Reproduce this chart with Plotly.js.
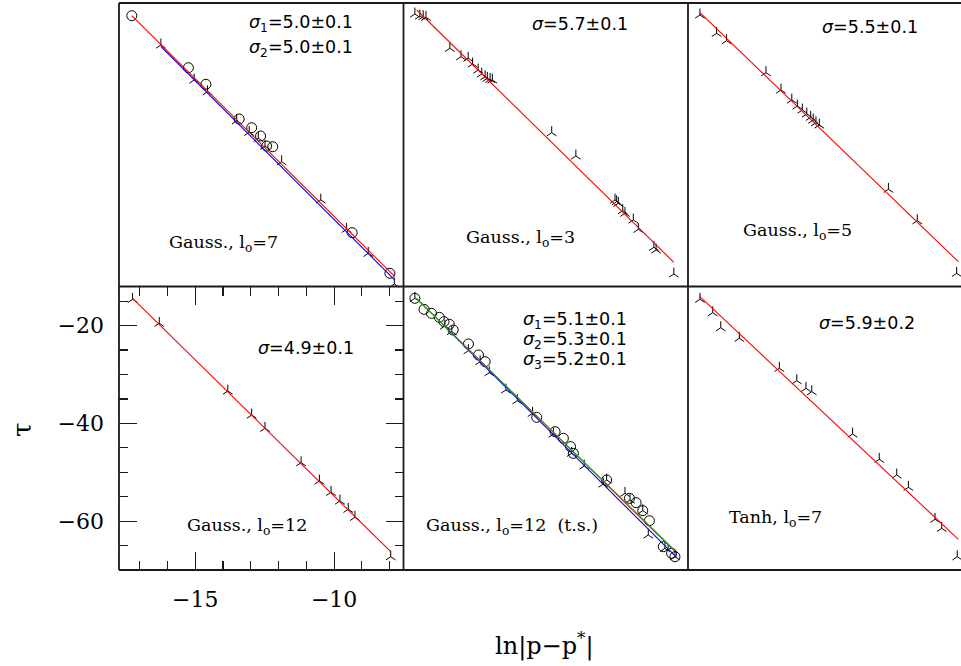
<!DOCTYPE html>
<html>
<head>
<meta charset="utf-8">
<script src="https://cdn.plot.ly/plotly-3.0.1.min.js"></script>
<style>
  html, body { margin: 0; padding: 0; background: #fff; }
  #plot { width: 961px; height: 666px; }
</style>
</head>
<body>
<div id="plot"></div>
<script>
// ---- Gaussian, l0 = 7 (two runs, two fits) ----
const g7CircX = [-17.29, -15.25, -14.62, -13.42, -12.97, -12.65, -12.43, -12.21, -9.35, -7.99];
const g7CircY = [-14.6, -25.24, -28.63, -35.73, -37.51, -39.21, -41.26, -41.4, -58.99, -67.3];
const g7TriX = [-16.24, -15.04, -14.56, -13.51, -13.06, -12.73, -12.49, -11.89, -10.48, -9.55, -8.77, -7.83];
const g7TriY = [-20.59, -27.75, -30.15, -36.08, -38.45, -39.68, -41.26, -44.47, -52.3, -58.3, -63.21, -69.49];
const g7FitRedX = [-17.29, -7.81];
const g7FitRedY = [-14.6, -67.99];
const g7FitBlueX = [-16.24, -7.81];
const g7FitBlueY = [-20.9, -68.7];

// ---- Gaussian, l0 = 3 ----
const g3TriX = [-17.34, -17.16, -17.04, -16.94, -16.08, -15.68, -15.42, -15.26, -15.06, -14.93, -14.81, -14.73, -14.63, -14.55,
                -12.41, -11.54, -10.13, -10.07, -10.01, -9.85, -9.77, -9.47, -9.29, -8.73, -8.65, -8.01];
const g3TriY = [-14.25, -14.66, -14.80, -14.93, -21.27, -22.99, -23.31, -24.48, -25.71, -26.53, -27.08, -27.41, -27.61, -27.75,
                -38.53, -43.3, -52.3, -52.65, -52.98, -54.49, -55.02, -56.39, -58.3, -61.98, -62.53, -67.44];
const g3FitX = [-17.27, -8.01];
const g3FitY = [-13.43, -65.05];

// ---- Gaussian, l0 = 5 ----
const g5TriX = [-17.32, -16.72, -16.36, -14.94, -14.4, -14.01, -13.81, -13.63, -13.47, -13.33, -13.24, -13.14, -13.02, -10.53, -9.49, -8.07];
const g5TriY = [-14.45, -18.2, -19.71, -26.26, -29.8, -31.84, -33.07, -33.89, -34.71, -35.38, -35.94, -36.49, -36.96, -50.11, -56.54, -67.3];
const g5FitX = [-17.32, -8.01];
const g5FitY = [-13.98, -64.93];

// ---- Gaussian, l0 = 12 ----
const g12TriX = [-17.26, -16.3, -13.83, -12.97, -12.49, -11.19, -10.53, -10.11, -9.79, -9.49, -9.25, -7.96];
const g12TriY = [-14.62, -19.53, -33.38, -38.29, -41.01, -48.05, -51.79, -54.1, -55.88, -57.58, -59.22, -67.28];
const g12FitX = [-17.26, -7.96];
const g12FitY = [-14.41, -66.26];

// ---- Gaussian, l0 = 12 (t.s.), three fits ----
const tsCircX = [-17.34, -17.01, -16.74, -16.46, -16.29, -16.1, -15.96, -15.41, -15.05, -14.81, -12.95, -12.29,
                 -11.99, -11.73, -11.63, -10.43, -9.61, -9.37, -9.13, -8.89, -8.39, -8.09, -7.97];
const tsCircY = [-14.42, -16.67, -17.49, -18.31, -19.19, -19.74, -20.9, -23.76, -26.01, -27.38, -38.77, -41.7,
                 -43.06, -44.77, -46.13, -51.59, -55.34, -56.22, -57.86, -59.91, -65.23, -66.59, -67.27];
const tsTriX = [-17.34, -16.26, -16.01, -15.41, -14.99, -14.66, -14.06, -13.65, -13.1, -12.35, -11.69, -11.24,
                -10.55, -10.43, -9.77, -9.59, -9.13, -8.93, -8.33, -7.97];
const tsTriY = [-14.42, -20.08, -21.24, -25.13, -27.38, -29.63, -33.17, -35.36, -37.95, -42.18, -46.13, -48.72,
                -52.41, -51.59, -54.31, -55.68, -57.86, -62.84, -65.57, -67.27];
const tsFitRedX = [-17.28, -8.01];
const tsFitRedY = [-14.42, -66.0];
const tsFitBlueX = [-16.26, -7.91];
const tsFitBlueY = [-20.22, -67.41];
const tsFitGreenX = [-17.34, -8.01];
const tsFitGreenY = [-14.22, -65.77];

// ---- Tanh, l0 = 7 ----
const thTriX = [-17.32, -16.86, -16.57, -15.9, -14.46, -13.83, -13.5, -13.29, -11.82, -10.86, -10.23, -9.81, -8.85, -8.61, -8.05];
const thTriY = [-14.62, -17.36, -20.43, -22.6, -28.73, -31.27, -32.83, -33.52, -42.18, -47.35, -50.56, -53.08, -59.63, -61.47, -67.28];
const thFitX = [-17.32, -8.01];
const thFitY = [-14.09, -63.72];

// Axis ticks and labels
const xTickVals = [-15, -10];
const yTickVals = [-20, -40, -60];
const xTitle = 'ln|p−p<sup>*</sup>|';
const yTitle = 'τ';

// Panel texts
const panelLabels = ['Gauss., l<sub>o</sub>=7', 'Gauss., l<sub>o</sub>=3', 'Gauss., l<sub>o</sub>=5',
                     'Gauss., l<sub>o</sub>=12', 'Gauss., l<sub>o</sub>=12  (t.s.)', 'Tanh, l<sub>o</sub>=7'];
const sigmaLabels = [
  ['<i>σ</i><sub>1</sub>=5.0±0.1', '<i>σ</i><sub>2</sub>=5.0±0.1'],
  ['<i>σ</i>=5.7±0.1'],
  ['<i>σ</i>=5.5±0.1'],
  ['<i>σ</i>=4.9±0.1'],
  ['<i>σ</i><sub>1</sub>=5.1±0.1', '<i>σ</i><sub>2</sub>=5.3±0.1', '<i>σ</i><sub>3</sub>=5.2±0.1'],
  ['<i>σ</i>=5.9±0.2']
];

// ---------------- drawing ----------------
const W = 961, H = 666;
const INK = '#1a1a1a';
const RED = '#ff0000', BLUE = '#0000ff', GREEN = '#1cb01c';

function pts(x, y, symbol, n) {
  return {
    type: 'scatter', mode: 'markers', x: x, y: y,
    xaxis: 'x' + n, yaxis: 'y' + n, cliponaxis: false,
    marker: { symbol: symbol, size: symbol === 'y-up' ? 8 : 10, color: '#000',
              line: { color: '#000', width: 1 } },
    hoverinfo: 'skip', showlegend: false
  };
}
function fit(x, y, color, n) {
  return {
    type: 'scatter', mode: 'lines', x: x, y: y,
    xaxis: 'x' + n, yaxis: 'y' + n,
    line: { color: color, width: 1.1 },
    hoverinfo: 'skip', showlegend: false
  };
}

const traces = [
  pts(g7CircX, g7CircY, 'circle-open', 1), pts(g7TriX, g7TriY, 'y-up', 1),
  fit(g7FitBlueX, g7FitBlueY, BLUE, 1), fit(g7FitRedX, g7FitRedY, RED, 1),

  pts(g3TriX, g3TriY, 'y-up', 2), fit(g3FitX, g3FitY, RED, 2),

  pts(g5TriX, g5TriY, 'y-up', 3), fit(g5FitX, g5FitY, RED, 3),

  pts(g12TriX, g12TriY, 'y-up', 4), fit(g12FitX, g12FitY, RED, 4),

  pts(tsCircX, tsCircY, 'circle-open', 5), pts(tsTriX, tsTriY, 'y-up', 5),
  fit(tsFitRedX, tsFitRedY, RED, 5), fit(tsFitBlueX, tsFitBlueY, BLUE, 5),
  fit(tsFitGreenX, tsFitGreenY, GREEN, 5),

  pts(thTriX, thTriY, 'y-up', 6), fit(thFitX, thFitY, RED, 6)
];

// panel frame in pixels
const colEdges = [119, 403.5, 688, 972.5];
const rowEdges = [3, 286.5, 570];
const pxPerX = (colEdges[1] - colEdges[0]) / 10.25;
const X0 = -17.75;
const yRange = [-70, -12];

const layout = {
  width: W, height: H,
  margin: { l: 0, r: 0, t: 0, b: 0, pad: 0 },
  paper_bgcolor: '#fff', plot_bgcolor: 'rgba(0,0,0,0)',
  showlegend: false,
  font: { family: 'DejaVu Serif', color: '#000' },
  annotations: [],
  shapes: []
};

for (let r = 0; r < 2; r++) {
  for (let c = 0; c < 3; c++) {
    const n = r * 3 + c + 1;
    const left = colEdges[c];
    const right = Math.min(colEdges[c + 1], W);
    const xr = [X0, X0 + (right - left) / pxPerX];
    const isTick = (n === 4);
    const xa = {
      domain: [left / W, right / W], range: xr, anchor: 'y' + n,
      showgrid: false, zeroline: false, showline: false,
      mirror: isTick ? 'ticks' : false,
      showticklabels: isTick, ticks: isTick ? 'inside' : ''
    };
    const ya = {
      domain: [1 - rowEdges[r + 1] / H, 1 - rowEdges[r] / H], range: yRange, anchor: 'x' + n,
      showgrid: false, zeroline: false, showline: false,
      mirror: isTick ? 'ticks' : false,
      showticklabels: isTick, ticks: isTick ? 'inside' : ''
    };
    if (isTick) {
      Object.assign(xa, {
        tickmode: 'array', tickvals: xTickVals, ticklen: 18, tickwidth: 1.2, tickcolor: INK,
        minor: { dtick: 1, tick0: -15, ticks: 'inside', ticklen: 9, tickwidth: 1.2, tickcolor: INK },
        tickfont: { family: 'DejaVu Serif', size: 22, color: '#000' }, ticklabelstandoff: 14
      });
      Object.assign(ya, {
        tickmode: 'array', tickvals: yTickVals, ticklen: 18, tickwidth: 1.2, tickcolor: INK,
        minor: { dtick: 5, tick0: -20, ticks: 'inside', ticklen: 9, tickwidth: 1.2, tickcolor: INK },
        tickfont: { family: 'DejaVu Serif', size: 22, color: '#000' }, ticklabelstandoff: 14
      });
    }
    layout['xaxis' + n] = xa;
    layout['yaxis' + n] = ya;
  }
}

// panel frame lines (the right column runs past the page edge, so no right frame)
function frameLine(x0, y0, x1, y1) {
  layout.shapes.push({
    type: 'line', xref: 'paper', yref: 'paper', layer: 'above',
    x0: x0 / W, y0: 1 - y0 / H, x1: x1 / W, y1: 1 - y1 / H,
    line: { color: INK, width: 1.8 }
  });
}
colEdges.slice(0, 3).forEach(x => frameLine(x, rowEdges[0], x, rowEdges[2]));
rowEdges.forEach(y => frameLine(colEdges[0], y, W, y));

function note(text, px, py, font) {
  layout.annotations.push({
    text: text, xref: 'paper', yref: 'paper', x: px / W, y: 1 - py / H,
    xanchor: 'center', yanchor: 'middle', showarrow: false, font: font
  });
}
const sigmaFont = { family: 'DejaVu Sans', size: 17.5, color: '#000' };
const labelFont = { family: 'DejaVu Serif', size: 17.5, color: '#000' };

// sigma values in each panel
const sigmaPos = [[301, 24, 25], [580, 24, 0], [870, 27, 0], [306, 348, 0], [575, 320, 20], [867, 323, 0]];
sigmaLabels.forEach((lines, i) => {
  lines.forEach((t, k) => note(t, sigmaPos[i][0], sigmaPos[i][1] + k * sigmaPos[i][2], sigmaFont));
});
// model labels in each panel
const labelPos = [[223, 244], [520, 239], [797, 231], [247, 526], [512, 526], [775, 518]];
panelLabels.forEach((t, i) => note(t, labelPos[i][0], labelPos[i][1], labelFont));

// shared axis titles
note(xTitle, 544, 644, { family: 'DejaVu Serif', size: 24, color: '#000' });
layout.annotations.push({
  text: yTitle, xref: 'paper', yref: 'paper', x: 22 / W, y: 1 - 430 / H,
  xanchor: 'center', yanchor: 'middle', textangle: -90, showarrow: false,
  font: { family: 'DejaVu Serif', size: 26, color: '#000' }
});

Plotly.newPlot('plot', traces, layout, { staticPlot: true, displayModeBar: false });
</script>
</body>
</html>
